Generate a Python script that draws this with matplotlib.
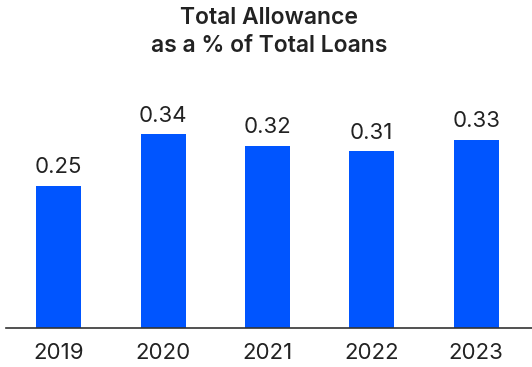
import matplotlib
matplotlib.use("Agg")
import matplotlib.pyplot as plt

years = ["2019", "2020", "2021", "2022", "2023"]
allowance_pct = [0.25, 0.34, 0.32, 0.31, 0.33]

bar_color = "#0055FF"
text_color = "#222222"

plt.rcParams['font.family'] = ['Inter', 'DejaVu Sans']

fig = plt.figure(figsize=(5.32, 3.67), dpi=100)
ax = fig.add_axes([6 / 532, 39 / 367, 1 - 6 / 532, 228 / 367])

x = range(len(years))
bars = ax.bar(x, allowance_pct, width=0.43, color=bar_color, zorder=2)

for rect, val in zip(bars, allowance_pct):
    ax.text(rect.get_x() + rect.get_width() / 2, val + 0.015, f"{val:.2f}",
            ha="center", va="bottom", fontsize=16, color=text_color)

ax.set_xlim(-0.505, 4.535)
ax.set_ylim(0, 0.4)
ax.set_xticks(list(x))
ax.set_xticklabels(years, fontsize=16, color=text_color)
ax.tick_params(axis="x", length=0, pad=11)
ax.set_yticks([])
for side in ["top", "right", "left"]:
    ax.spines[side].set_visible(False)
ax.spines["bottom"].set_color("#333333")
ax.spines["bottom"].set_linewidth(1.2)
ax.spines["bottom"].set_zorder(3)

fig.text(0.5 + 3 / 532, 1 - 32 / 367, "Total Allowance\nas a % of Total Loans",
         ha="center", va="center", fontsize=16.5, fontweight="semibold",
         color=text_color, linespacing=1.35)

fig.savefig("out.png", dpi=100)
